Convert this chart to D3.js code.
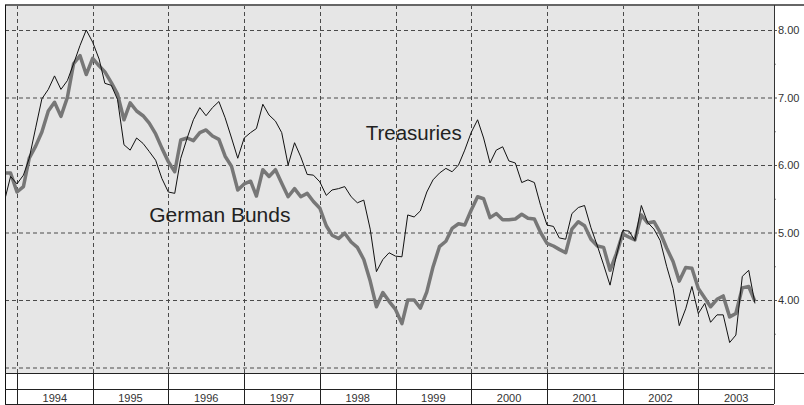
<!DOCTYPE html>
<html>
<head>
<meta charset="utf-8">
<script src="https://cdn.jsdelivr.net/npm/d3@7"></script>
<style>
  body { margin: 0; background: #fff; }
  svg { display: block; font-family: "Liberation Sans", Arial, sans-serif; }
</style>
</head>
<body>
<script>
// monthly yields (%), first value is Nov 1993
const startMonth = "1993-11";
const treasuries = [
  5.46, 5.83, 5.72, 5.85, 6.10, 6.55, 6.98, 7.12, 7.32, 7.12, 7.25, 7.50,
  7.77, 8.00, 7.82, 7.57, 7.21, 7.18, 6.97, 6.30, 6.22, 6.40, 6.32, 6.20,
  6.07, 5.80, 5.60, 5.58, 6.10, 6.40, 6.67, 6.85, 6.73, 6.85, 6.94, 6.70,
  6.40, 6.10, 6.40, 6.48, 6.54, 6.90, 6.74, 6.65, 6.48, 6.00, 6.33, 6.12,
  5.86, 5.85, 5.75, 5.55, 5.63, 5.65, 5.68, 5.53, 5.44, 5.48, 5.05, 4.42,
  4.60, 4.70, 4.65, 4.64, 5.26, 5.23, 5.32, 5.60, 5.78, 5.88, 5.95, 5.90,
  6.00, 6.22, 6.48, 6.67, 6.40, 6.03, 6.22, 6.27, 6.06, 6.03, 5.74, 5.78,
  5.74, 5.40, 5.11, 5.09, 4.92, 4.90, 5.28, 5.37, 5.40, 5.07, 4.80, 4.52,
  4.22, 4.65, 5.03, 5.02, 4.88, 5.40, 5.15, 5.05, 4.88, 4.50, 4.17, 3.62,
  3.87, 4.20, 3.80, 3.95, 3.67, 3.78, 3.78, 3.37, 3.48, 4.35, 4.44, 3.95
];
const bunds = [
  5.88, 5.88, 5.60, 5.68, 6.10, 6.28, 6.49, 6.80, 6.93, 6.72, 7.00, 7.50,
  7.62, 7.34, 7.58, 7.47, 7.38, 7.22, 7.05, 6.67, 6.92, 6.80, 6.73, 6.62,
  6.46, 6.25, 6.05, 5.90, 6.37, 6.40, 6.36, 6.48, 6.52, 6.43, 6.38, 6.13,
  5.98, 5.63, 5.72, 5.76, 5.54, 5.93, 5.83, 5.93, 5.73, 5.53, 5.65, 5.53,
  5.58, 5.46, 5.36, 5.10, 4.96, 4.91, 4.99, 4.86, 4.78, 4.60, 4.28, 3.90,
  4.11, 3.98, 3.86, 3.65, 4.00, 4.00, 3.88, 4.12, 4.49, 4.79, 4.87, 5.06,
  5.13, 5.11, 5.33, 5.53, 5.50, 5.22, 5.28, 5.19, 5.19, 5.20, 5.27, 5.21,
  5.20, 5.00, 4.84, 4.80, 4.75, 4.70, 5.05, 5.16, 5.10, 4.90, 4.80, 4.78,
  4.44, 4.68, 4.98, 4.93, 4.89, 5.26, 5.14, 5.16, 5.00, 4.77, 4.57, 4.28,
  4.48, 4.47, 4.17, 4.03, 3.90, 4.01, 4.06, 3.75, 3.80, 4.18, 4.20, 3.98
];
const years = [1994, 1995, 1996, 1997, 1998, 1999, 2000, 2001, 2002, 2003];
const yTicks = [4, 5, 6, 7, 8];
const yMinorTicks = [3.5, 4.5, 5.5, 6.5, 7.5];
const yGrid = [3, 4, 5, 6, 7, 8];

const width = 804, height = 405;
const plot = { left: 5, top: 5, right: 774, bottom: 373 };
const rowMid = 389, tableBottom = 404;

const svg = d3.select("body").append("svg")
  .attr("width", width)
  .attr("height", height);

const parseMonth = d3.timeParse("%Y-%m");
const start = parseMonth(startMonth);
const dates = treasuries.map((d, i) => d3.timeMonth.offset(start, i));

const x = d3.scaleTime()
  .domain([new Date(1994, 0, 1), new Date(2004, 0, 1)])
  .range([17, plot.right]);

const y = d3.scaleLinear()
  .domain([3, 8])
  .range([367.5, 30]);

// plot background
svg.append("rect")
  .attr("x", plot.left)
  .attr("y", plot.top)
  .attr("width", plot.right - plot.left)
  .attr("height", plot.bottom - plot.top)
  .attr("fill", "#e6e6e6");

svg.append("clipPath").attr("id", "clip")
  .append("rect")
  .attr("x", plot.left)
  .attr("y", plot.top)
  .attr("width", plot.right - plot.left)
  .attr("height", plot.bottom - plot.top);

// gridlines
const grid = svg.append("g").attr("class", "grid");
grid.selectAll("line.h")
  .data(yGrid)
  .enter().append("line")
  .attr("class", "h")
  .attr("x1", plot.left).attr("x2", plot.right)
  .attr("y1", d => y(d) + 0.5).attr("y2", d => y(d) + 0.5);
grid.selectAll("line.v")
  .data(years)
  .enter().append("line")
  .attr("class", "v")
  .attr("x1", d => Math.round(x(new Date(d, 0, 1))) + 0.5)
  .attr("x2", d => Math.round(x(new Date(d, 0, 1))) + 0.5)
  .attr("y1", plot.top).attr("y2", plot.bottom);
grid.selectAll("line")
  .attr("stroke", "#4a4a4a")
  .attr("stroke-width", 1)
  .attr("stroke-dasharray", "4,3");

// series
const line = d3.line()
  .x((d, i) => x(dates[i]))
  .y(d => y(d));

const lines = svg.append("g").attr("clip-path", "url(#clip)");
lines.append("path")
  .datum(bunds)
  .attr("fill", "none")
  .attr("stroke", "#777777")
  .attr("stroke-width", 3.5)
  .attr("stroke-linejoin", "round")
  .attr("d", line);
lines.append("path")
  .datum(treasuries)
  .attr("fill", "none")
  .attr("stroke", "#111")
  .attr("stroke-width", 1)
  .attr("d", line);

// series labels
svg.append("text")
  .attr("x", x(new Date(1998, 7, 10)))
  .attr("y", y(6.37))
  .attr("font-size", 20.5)
  .attr("fill", "#222")
  .text("Treasuries");
svg.append("text")
  .attr("x", x(new Date(1995, 9, 1)))
  .attr("y", y(5.16))
  .attr("font-size", 21)
  .attr("fill", "#222")
  .text("German Bunds");

// right axis
const yAxis = d3.axisRight(y)
  .tickValues(yTicks)
  .tickSize(3)
  .tickPadding(1)
  .tickFormat(d3.format(".2f"));
const axisG = svg.append("g")
  .attr("transform", `translate(${plot.right},0)`)
  .call(yAxis);
axisG.select(".domain").remove();
axisG.selectAll("text")
  .attr("font-size", 11)
  .attr("font-family", "Liberation Sans, Arial, sans-serif")
  .attr("fill", "#333");
axisG.selectAll("line").attr("stroke", "#555");

const minorAxis = d3.axisRight(y)
  .tickValues(yMinorTicks)
  .tickSize(2)
  .tickFormat("");
const minorG = svg.append("g")
  .attr("transform", `translate(${plot.right},0)`)
  .call(minorAxis);
minorG.select(".domain").remove();
minorG.selectAll("line").attr("stroke", "#888");

// frame
const frame = svg.append("g").attr("stroke-width", 1).attr("shape-rendering", "crispEdges");
frame.append("line") // top
  .attr("x1", plot.left).attr("x2", width)
  .attr("y1", plot.top).attr("y2", plot.top)
  .attr("stroke", "#666").attr("stroke-width", 2);
frame.append("line") // left
  .attr("x1", plot.left + 0.5).attr("x2", plot.left + 0.5)
  .attr("y1", plot.top).attr("y2", tableBottom)
  .attr("stroke", "#111");
frame.append("line") // right axis
  .attr("x1", plot.right + 0.5).attr("x2", plot.right + 0.5)
  .attr("y1", plot.top).attr("y2", tableBottom)
  .attr("stroke", "#333");
frame.append("line") // plot bottom
  .attr("x1", plot.left).attr("x2", width)
  .attr("y1", plot.bottom + 0.5).attr("y2", plot.bottom + 0.5)
  .attr("stroke", "#222");
frame.append("line") // table row divider
  .attr("x1", plot.left).attr("x2", plot.right)
  .attr("y1", rowMid + 0.5).attr("y2", rowMid + 0.5)
  .attr("stroke", "#222");
frame.append("line") // table bottom
  .attr("x1", plot.left).attr("x2", plot.right)
  .attr("y1", tableBottom + 0.5).attr("y2", tableBottom + 0.5)
  .attr("stroke", "#222");

// year cells
frame.selectAll("line.year")
  .data(years)
  .enter().append("line")
  .attr("class", "year")
  .attr("x1", d => Math.round(x(new Date(d, 0, 1))) + 0.5)
  .attr("x2", d => Math.round(x(new Date(d, 0, 1))) + 0.5)
  .attr("y1", plot.bottom).attr("y2", tableBottom)
  .attr("stroke", "#222");

svg.selectAll("text.year")
  .data(years)
  .enter().append("text")
  .attr("class", "year")
  .attr("x", d => (x(new Date(d, 0, 1)) + x(new Date(d + 1, 0, 1))) / 2)
  .attr("y", 402)
  .attr("text-anchor", "middle")
  .attr("font-size", 11)
  .attr("fill", "#333")
  .text(d => d);
</script>
</body>
</html>
